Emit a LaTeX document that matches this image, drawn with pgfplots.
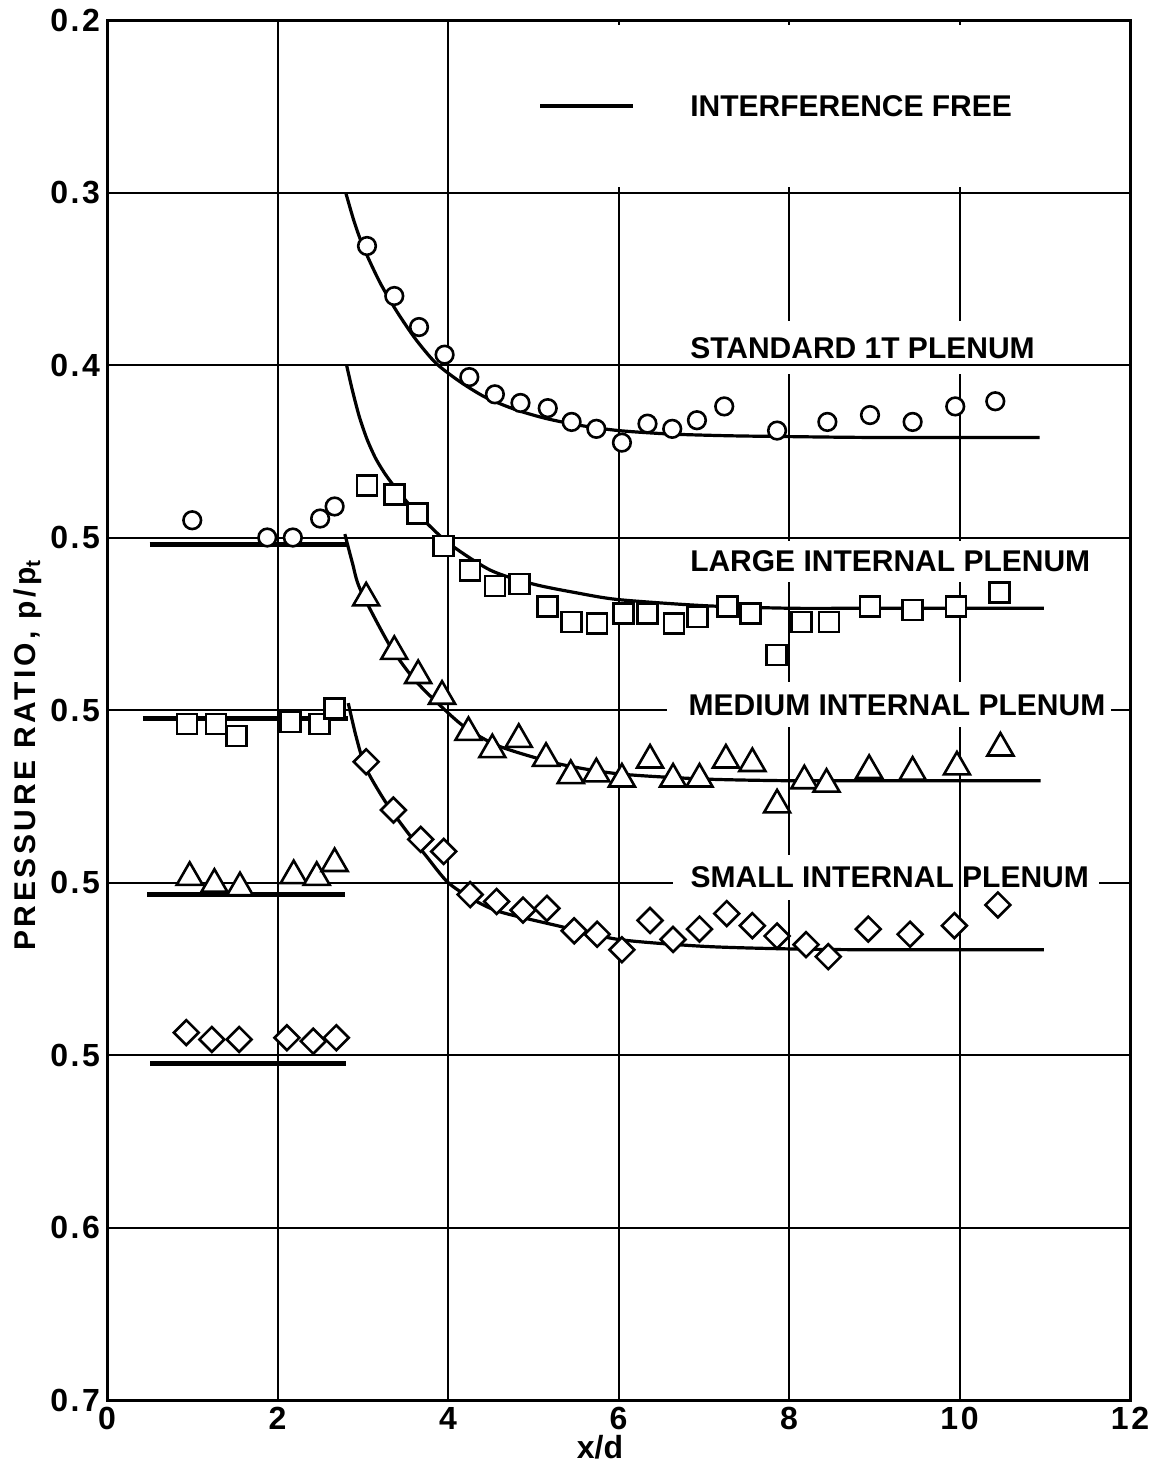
\documentclass[border=0pt]{standalone}
\usepackage{pgfplots}
\pgfplotsset{compat=1.18}
\usepackage{fontspec}
\setmainfont{Liberation Sans}

\newcommand{\lbl}{\fontsize{15}{18}\selectfont\bfseries}
\newcommand{\tk}{\fontsize{16}{18}\selectfont\bfseries\addfontfeatures{LetterSpace=8}}

\pgfplotsset{
  ifree/.style={black, line width=1.6pt, no markers, smooth, tension=0.45},
  upflat/.style={black, line width=2.2pt, no markers},
  circ/.style={only marks, mark=*, mark size=4.4pt,
    mark options={black, fill=white, line width=1.3pt, solid}},
  sqr/.style={only marks, mark=square*, mark size=5pt,
    mark options={black, fill=white, line width=1.3pt, solid}},
  tri/.style={only marks, mark=triangle*, mark size=7.5pt,
    mark options={black, fill=white, line width=1.3pt, solid}},
  dia/.style={only marks, mark=square*, mark size=4.4pt,
    mark options={black, fill=white, line width=1.3pt, solid, rotate=45}},
}
\tikzset{gridline/.style={black, line width=1pt}}

\begin{document}
\begin{tikzpicture}
\begin{axis}[
  at={(0pt,0pt)}, anchor=south west,
  width=511.5pt, height=690pt, scale only axis,
  xmin=0, xmax=12, ymin=0, ymax=8, y dir=reverse,
  xtick={0,2,...,12}, xticklabels={0,2,4,6,8,10,12},
  ytick={0,1,2,3,4,5,6,7,8},
  yticklabels={0.2,0.3,0.4,0.5,0.5,0.5,0.5,0.6,0.7},
  major tick length=0pt,
  grid=major, major grid style={black, line width=1pt},
  axis line style={line width=1.5pt},
  ticklabel style={font=\tk},
  clip=false,
]

% blank panel behind the key
\fill[white] (axis cs:4.6,0.03) rectangle (axis cs:11.97,0.97);

% ---- interference-free curves (downstream of the model nose) ----
\addplot[ifree] coordinates {
 (2.80,1.00) (2.90,1.17) (3.01,1.32) (3.20,1.52) (3.40,1.69) (3.62,1.85)
 (3.86,1.99) (4.15,2.10) (4.45,2.19) (4.80,2.26) (5.15,2.31) (5.55,2.35)
 (6.00,2.38) (6.60,2.40) (7.28,2.41) (8.00,2.415) (9.00,2.42) (10.94,2.42)};
\addplot[ifree] coordinates {
 (2.81,2.00) (2.88,2.15) (2.96,2.30) (3.05,2.43) (3.15,2.54) (3.26,2.63)
 (3.38,2.71) (3.62,2.85) (4.00,3.03) (4.50,3.19) (5.00,3.27) (5.50,3.32)
 (6.00,3.36) (7.00,3.395) (8.00,3.41) (9.00,3.41) (10.99,3.41)};
\addplot[ifree] coordinates {
 (2.79,2.98) (2.88,3.15) (2.97,3.30) (3.31,3.62) (3.60,3.82) (3.90,3.97)
 (4.20,4.10) (4.60,4.21) (5.28,4.31) (6.00,4.37) (7.00,4.40) (8.00,4.41)
 (9.00,4.41) (10.95,4.41)};
\addplot[ifree] coordinates {
 (2.83,3.96) (2.92,4.15) (3.03,4.33) (3.25,4.52) (3.48,4.68) (3.75,4.85)
 (4.00,5.00) (4.30,5.10) (4.61,5.17) (5.28,5.25) (6.00,5.33) (7.00,5.37)
 (8.00,5.385) (9.00,5.39) (10.99,5.39)};

% ---- interference-free upstream levels ----
\addplot[upflat] coordinates {(0.50,3.04) (2.82,3.04)};
\addplot[upflat] coordinates {(0.42,4.05) (2.83,4.05)};
\addplot[upflat] coordinates {(0.47,5.07) (2.79,5.07)};
\addplot[upflat] coordinates {(0.51,6.05) (2.80,6.05)};

% ---- standard 1T plenum ----
\addplot[circ] coordinates {
 (1.00,2.90) (1.88,3.00) (2.18,3.00) (2.50,2.89) (2.67,2.82)
 (3.05,1.31) (3.37,1.60) (3.66,1.78) (3.96,1.94) (4.25,2.07) (4.55,2.17)
 (4.85,2.22) (5.17,2.25) (5.45,2.33) (5.74,2.37) (6.04,2.45) (6.34,2.34)
 (6.63,2.37) (6.92,2.32) (7.24,2.24) (7.86,2.38) (8.45,2.33) (8.95,2.29)
 (9.45,2.33) (9.95,2.24) (10.42,2.21)};

% ---- large internal plenum ----
\addplot[sqr] coordinates {
 (0.94,4.08) (1.28,4.08) (1.52,4.15) (2.15,4.07) (2.49,4.08) (2.67,3.99)
 (3.05,2.70) (3.37,2.75) (3.64,2.86) (3.95,3.05) (4.26,3.19) (4.55,3.28)
 (4.84,3.27) (5.17,3.40) (5.45,3.49) (5.75,3.50) (6.06,3.44) (6.34,3.44)
 (6.65,3.50) (6.93,3.46) (7.28,3.40) (7.55,3.44) (7.85,3.68) (8.15,3.49)
 (8.47,3.49) (8.95,3.40) (9.45,3.42) (9.96,3.40) (10.47,3.32)};

% ---- medium internal plenum ----
\addplot[tri] coordinates {
 (0.97,4.97) (1.26,5.01) (1.56,5.03) (2.19,4.96) (2.46,4.97) (2.67,4.89)
 (3.04,3.35) (3.37,3.66) (3.65,3.80) (3.93,3.92) (4.24,4.13) (4.52,4.23)
 (4.83,4.17) (5.15,4.28) (5.44,4.38) (5.74,4.37) (6.04,4.40) (6.37,4.29)
 (6.64,4.40) (6.95,4.40) (7.26,4.29) (7.57,4.31) (7.86,4.55) (8.18,4.41)
 (8.44,4.43) (8.94,4.35) (9.45,4.36) (9.97,4.33) (10.48,4.22)};

% ---- small internal plenum ----
\addplot[dia] coordinates {
 (0.93,5.87) (1.23,5.91) (1.55,5.91) (2.11,5.90) (2.42,5.92) (2.69,5.90)
 (3.04,4.30) (3.36,4.58) (3.68,4.75) (3.95,4.82) (4.26,5.07) (4.57,5.11)
 (4.88,5.16) (5.16,5.15) (5.48,5.28) (5.75,5.30) (6.04,5.39) (6.37,5.22)
 (6.64,5.33) (6.95,5.27) (7.27,5.18) (7.57,5.25) (7.86,5.31) (8.20,5.36)
 (8.46,5.43) (8.93,5.27) (9.42,5.30) (9.94,5.25) (10.45,5.13)};

% ---- key and curve labels ----
\draw[line width=2.2pt] (axis cs:5.08,0.50) -- (axis cs:6.17,0.50);
\node[anchor=west, inner xsep=0pt, font=\lbl]
  at (axis cs:6.79,0.50) {\hspace*{2pt}INTERFERENCE FREE};
\node[anchor=west, fill=white, inner xsep=0pt, inner ysep=8pt, font=\lbl]
  at (axis cs:6.79,1.90) {\hspace*{2pt}STANDARD 1T PLENUM\hspace*{3pt}};
\draw[gridline] (axis cs:6.5,2) -- (axis cs:12,2);
\node[anchor=west, fill=white, inner xsep=0pt, inner ysep=5pt, font=\lbl]
  at (axis cs:6.79,3.14) {\hspace*{2pt}LARGE INTERNAL PLENUM\hspace*{3pt}};
\node[anchor=west, fill=white, inner xsep=0pt, inner ysep=6pt, font=\lbl]
  at (axis cs:6.56,3.97) {\hspace*{11pt}MEDIUM INTERNAL PLENUM\hspace*{3pt}};
\node[anchor=west, fill=white, inner xsep=0pt, inner ysep=6pt, font=\lbl]
  at (axis cs:6.63,4.97) {\hspace*{9pt}SMALL INTERNAL PLENUM\hspace*{5pt}};
\draw[gridline] (axis cs:10,4.75) -- (axis cs:10,5.2);
\end{axis}

% axis titles
\node[rotate=90, font=\fontsize{15}{16}\selectfont\bfseries\addfontfeatures{LetterSpace=12}]
  at (-39.5pt,322.5pt) {PRESSURE RATIO, p/p\textsubscript{t}};
\node[font=\fontsize{16}{18}\selectfont\bfseries] at (246.5pt,-23.5pt) {x/d};

\pgfresetboundingbox
\path[use as bounding box] (-53.5pt,-32.5pt) rectangle (523pt,700pt);
\end{tikzpicture}
\end{document}
